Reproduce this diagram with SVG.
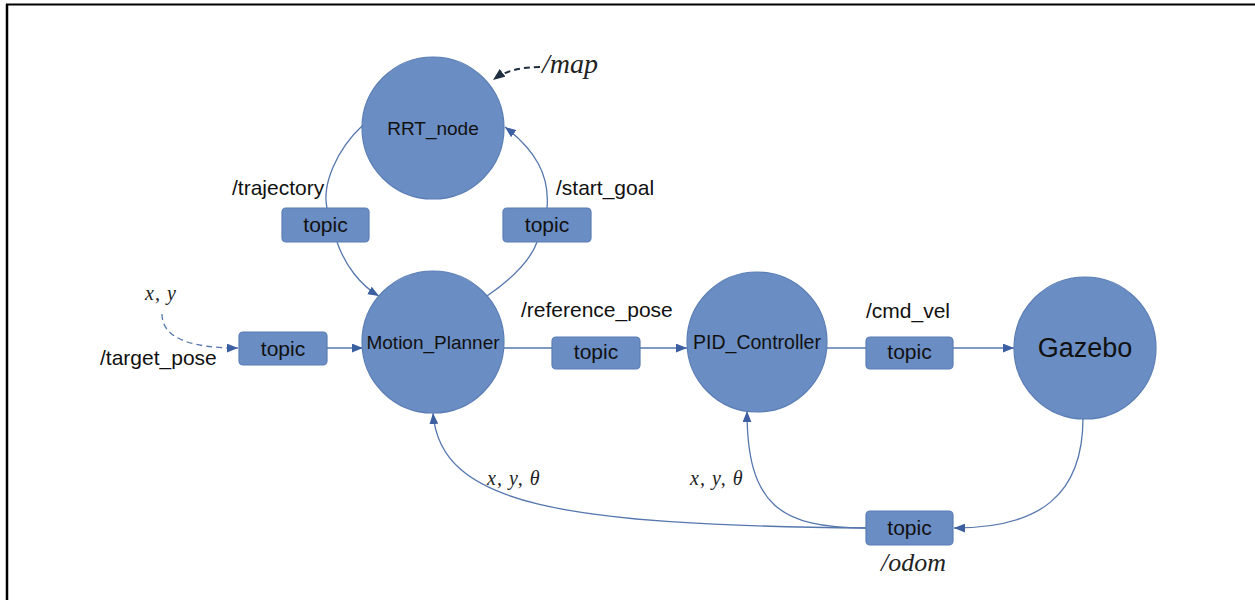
<svg xmlns="http://www.w3.org/2000/svg" width="1255" height="600" viewBox="0 0 1255 600">
<style>
.node{fill:#6a8dc3;stroke:#5a7db5;stroke-width:1.2}
.box{fill:#6a8dc3;stroke:#5a7db5;stroke-width:1.2}
.nl{font-family:"Liberation Sans",Arial,sans-serif;font-size:19px;fill:#111;text-anchor:middle}
.tl{font-family:"Liberation Sans",Arial,sans-serif;font-size:21px;fill:#111;text-anchor:middle}
.el{font-family:"Liberation Sans",Arial,sans-serif;font-size:21px;fill:#111}
.math{font-family:"Liberation Serif","Times New Roman",serif;font-style:italic;fill:#222}
.edge{fill:none;stroke:#5577ad;stroke-width:1.3}
</style>
<defs>
<marker id="arr" viewBox="0 0 10 8" refX="10" refY="4" markerWidth="11" markerHeight="9" markerUnits="userSpaceOnUse" orient="auto"><path d="M0,0 L10,4 L0,8 z" fill="#3b5fa0"/></marker>
<marker id="arrd" viewBox="0 0 10 8" refX="10" refY="4" markerWidth="12" markerHeight="10" markerUnits="userSpaceOnUse" orient="auto"><path d="M0,0 L10,4 L0,8 z" fill="#1f2f3f"/></marker>
</defs>
<rect width="1255" height="600" fill="#fff"/>
<g id="border" stroke="#000" fill="none">
<line x1="6" y1="4.5" x2="1255" y2="4.5" stroke-width="2"/>
<line x1="7" y1="4" x2="7" y2="600" stroke-width="2.5"/>
</g>
<g id="connectors">
<path class="edge" d="M363,125 C336,150 322,185 327,208"/>
<path class="edge" d="M337,242 C345,265 360,285 379,296" marker-end="url(#arr)"/>
<path class="edge" d="M487,296 C510,280 530,262 537,242"/>
<path class="edge" d="M547,208 C550,175 535,150 505,127" marker-end="url(#arr)"/>
<path class="edge" d="M162,314 C162,340 195,348 238,348" stroke="#7a9ccc" stroke-dasharray="6,4" marker-end="url(#arr)"/>
<path class="edge" d="M327,348 L363,348" marker-end="url(#arr)"/>
<path class="edge" d="M504,348 L552,348"/>
<path class="edge" d="M640,348 L687,348" marker-end="url(#arr)"/>
<path class="edge" d="M827,348 L866,348"/>
<path class="edge" d="M953,348 L1014,348" marker-end="url(#arr)"/>
<path class="edge" d="M1083,418 C1083,495 1040,528 954,528" marker-end="url(#arr)"/>
<path class="edge" d="M866,528 C560,525 440,505 433,413" marker-end="url(#arr)"/>
<path class="edge" d="M866,528 C780,528 747,505 747,411" marker-end="url(#arr)"/>
<path d="M540,67 C520,67 505,71 493,80" fill="none" stroke="#1f2f3f" stroke-width="2" stroke-dasharray="6,4" marker-end="url(#arrd)"/>
</g>
<g id="RRT_node"><circle class="node" cx="433" cy="128" r="71"/><text class="nl" x="433" y="135">RRT_node</text></g>
<g id="Motion_Planner"><circle class="node" cx="433" cy="342" r="71"/><text class="nl" x="433" y="349">Motion_Planner</text></g>
<g id="PID_Controller"><circle class="node" cx="757" cy="342" r="70"/><text class="nl" x="757" y="349" style="font-size:19.5px">PID_Controller</text></g>
<g id="Gazebo"><circle class="node" cx="1085" cy="348" r="71"/><text class="nl" x="1085" y="357" style="font-size:27px">Gazebo</text></g>
<g id="topic_trajectory"><rect class="box" x="282" y="208" width="87" height="34" rx="4"/><text class="tl" x="325.5" y="232">topic</text></g>
<g id="topic_start_goal"><rect class="box" x="503" y="208" width="88" height="34" rx="4"/><text class="tl" x="547" y="232">topic</text></g>
<g id="topic_target_pose"><rect class="box" x="239" y="332" width="88" height="33" rx="4"/><text class="tl" x="283" y="356">topic</text></g>
<g id="topic_reference_pose"><rect class="box" x="552" y="337" width="88" height="32" rx="4"/><text class="tl" x="596" y="359">topic</text></g>
<g id="topic_cmd_vel"><rect class="box" x="866" y="337" width="87" height="32" rx="4"/><text class="tl" x="909.5" y="359">topic</text></g>
<g id="topic_odom"><rect class="box" x="866" y="511" width="87" height="34" rx="4"/><text class="tl" x="909.5" y="535">topic</text></g>
<g id="labels">
<text class="el" x="232" y="195">/trajectory</text>
<text class="el" x="556" y="195">/start_goal</text>
<text class="el" x="100" y="365">/target_pose</text>
<text class="el" x="521" y="317">/reference_pose</text>
<text class="el" x="866" y="318">/cmd_vel</text>
<text class="math" x="145" y="300" font-size="20" letter-spacing="1">x, y</text>
<text class="math" x="487" y="485" font-size="20" letter-spacing="1">x, y, θ</text>
<text class="math" x="690" y="485" font-size="20" letter-spacing="1">x, y, θ</text>
<text class="math" x="881" y="571" font-size="26">/odom</text>
<text class="math" x="542" y="73" font-size="28">/map</text>
</g>
</svg>
